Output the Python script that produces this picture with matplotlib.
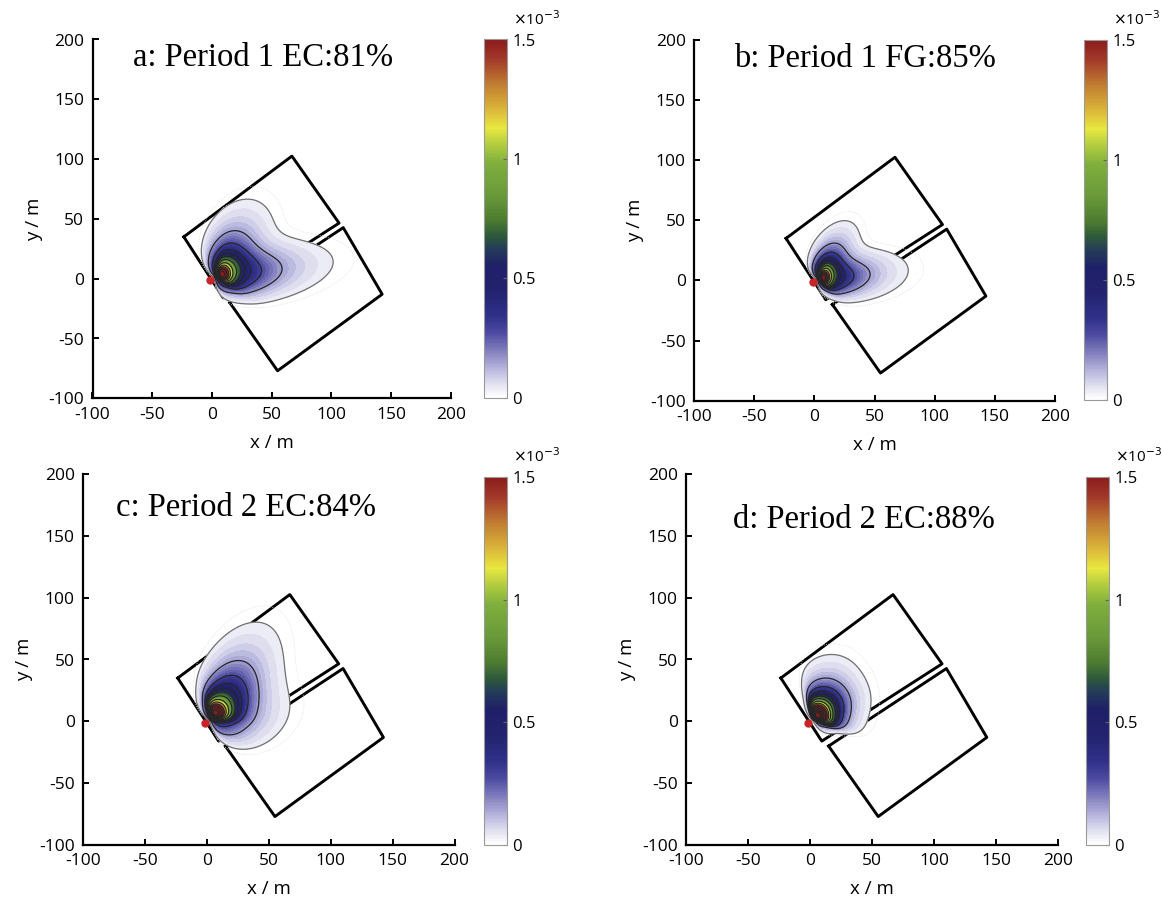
import numpy as np
import matplotlib
matplotlib.use("Agg")
import matplotlib.pyplot as plt
from matplotlib.colors import LinearSegmentedColormap, Normalize
from matplotlib.cm import ScalarMappable

# ---- data ---------------------------------------------------------------
TITLES = ["a: Period 1 EC:81%", "b: Period 1 FG:85%",
          "c: Period 2 EC:84%", "d: Period 2 EC:88%"]
TITLE_XY = [(-66, 185), (-67, 184), (-73, 173), (-62, 163)]

# field outlines (m)
UPPER_X = [-23.5, 67, 106.5, 9.5]
UPPER_Y = [35, 102.5, 46.5, -16]
LOWER_X = [15, 110, 142.6, 55]
LOWER_Y = [-20, 42.7, -13, -77]

TOWER = (-1.5, -1.2)          # red dot
ORIGIN = (1.5, 0.5)           # footprint origin

# broad footprint lobes, two per panel: direction (deg), distance of lobe
# maximum (m), reach of outermost contour (m), amplitude (x1e-3),
# crosswind spread and its growth with distance
BODY_DIR = [[58, 8.5], [58, 6.7], [58, 15], [60, 25]]
BODY_PEAK = [[12, 12], [10, 10], [12, 10], [9, 9]]
BODY_REACH = [[74, 101], [56, 77], [90.5, 66], [55, 45]]
BODY_AMP = [[0.45, 0.48], [0.48, 0.5], [0.52, 0.36], [0.5, 0.4]]
BODY_SPREAD = [[2.9, 5.0], [2.8, 3.6], [2.95, 4.8], [1.42, 3.6]]
BODY_GROW = [[0.43, 0.25], [0.35, 0.31], [0.415, 0.35], [0.6, 0.3]]

# sharp core near the tower: direction (deg), distance (m), amplitude,
# sharpness, crosswind width
CORE_DIR = [23, 13, 50, 42]
CORE_DIST = [7.5, 6.0, 8.2, 6.0]
CORE_AMP = [1.4, 1.5, 1.65, 2.4]
CORE_SHARP = [6, 6.5, 6, 4.5]
CORE_WIDTH = [0.52, 0.52, 0.5, 0.72]

OUTER = 0.03                                       # outermost contour (x1e-3)
LINE_LEVELS = [0.03, 0.15, 0.28, 0.4, 0.5, 0.6, 0.75, 0.95, 1.15, 1.35,
               1.6, 1.9, 2.2, 2.5, 2.8]
FAINT_LEVEL = 0.015

CB_VALS = [0.0, 0.05, 0.12, 0.2, 0.27, 0.34, 0.45, 0.55, 0.62, 0.68, 0.74,
           0.85, 0.98, 1.07, 1.13, 1.22, 1.32, 1.42, 1.5]
CB_COLS = ["#ffffff", "#e4e4f2", "#b6b4dc", "#7e7abc", "#4c4aa0", "#30308a",
           "#22226e", "#1f2068", "#243a5a", "#2e5a3a", "#4c7a30",
           "#6a9a3a", "#7eae3c", "#b8d040", "#e8e840", "#d8b038",
           "#c07a30", "#a2382a", "#8c1c1c"]

# axes boxes in pixels (left, top, right, bottom) of 1162 x 905
AX_PX = [(92.5, 39.5, 450.7, 398.3), (694, 40, 1055, 400.7),
         (83, 474, 454.5, 845), (686, 474, 1058, 845)]
CB_PX = [(484, 39.5, 507, 397.5), (1084, 40, 1107, 400),
         (484, 477, 507, 845), (1086, 477, 1109, 845)]

W, H = 1162, 905


def rotate(X, Y, d):
    ph = np.deg2rad(d)
    dx, dy = X - ORIGIN[0], Y - ORIGIN[1]
    return dx * np.cos(ph) + dy * np.sin(ph), -dx * np.sin(ph) + dy * np.cos(ph)


def body(X, Y, d, xm, reach, amp, c, q):
    s, n = rotate(X, Y, d)
    a = np.log(OUTER / amp) / (np.log(reach / xm) - reach / xm + 1)
    ss = np.where(s > 0.05, s, 0.05)
    g = amp * np.exp(a * (np.log(ss / xm) - ss / xm + 1))
    g *= 1 - np.exp(-ss / 1.5)                      # taper at the tower
    out = g * np.exp(-n ** 2 / (2 * (c * ss ** q) ** 2))
    return np.where(s > 0.05, out, 0.0)


def core(X, Y, d, xm, amp, p, c):
    s, n = rotate(X, Y, d)
    ss = np.where(s > 0.05, s, 0.05)
    g = amp * np.exp(-p * np.log(ss / xm) + p * (1 - xm / ss))
    out = g * np.exp(-n ** 2 / (2 * (c * ss) ** 2))
    return np.where(s > 0.05, out, 0.0)


cmap = LinearSegmentedColormap.from_list(
    "fp", list(zip(np.array(CB_VALS) / 1.5, CB_COLS)))
cmap.set_over(CB_COLS[-1])

plt.rcParams["font.family"] = ["Open Sans", "DejaVu Sans"]
plt.rcParams["axes.unicode_minus"] = False
fig = plt.figure(figsize=(W / 100, H / 100), dpi=100)

xg = np.linspace(-100, 200, 901)
X, Y = np.meshgrid(xg, xg)
fill_levels = np.concatenate([[OUTER], np.arange(0.05, 1.5, 0.025), [1.5]])

for i in range(4):
    norm = Normalize(0, 1.5)
    l, t, r, b = AX_PX[i]
    ax = fig.add_axes([l / W, 1 - b / H, (r - l) / W, (b - t) / H])
    F = core(X, Y, CORE_DIR[i], CORE_DIST[i], CORE_AMP[i], CORE_SHARP[i], CORE_WIDTH[i])
    for k in range(2):
        F += body(X, Y, BODY_DIR[i][k], BODY_PEAK[i][k], BODY_REACH[i][k],
                  BODY_AMP[i][k], BODY_SPREAD[i][k], BODY_GROW[i][k])

    ax.plot(UPPER_X + UPPER_X[:1], UPPER_Y + UPPER_Y[:1], color="black", lw=2.1, zorder=2)
    ax.plot(LOWER_X + LOWER_X[:1], LOWER_Y + LOWER_Y[:1], color="black", lw=2.1, zorder=2)
    ax.contour(X, Y, F, levels=[FAINT_LEVEL], colors="#dcdcdc", linewidths=0.6,
               linestyles=":", zorder=2.5)
    ax.contourf(X, Y, F, levels=fill_levels, cmap=cmap, norm=norm, extend="max", zorder=3)
    lv = [v for v in LINE_LEVELS if v < F.max()]
    lcols = ["#707070"] + ["#262626"] * (len(lv) - 1)
    ax.contour(X, Y, F, levels=lv, colors=lcols, linewidths=0.9, zorder=4)
    ax.plot(*TOWER, "o", color="#c8242a", ms=6, mec="none", zorder=5)

    ax.set_xlim(-100, 200); ax.set_ylim(-100, 200)
    ax.set_xticks(range(-100, 201, 50)); ax.set_yticks(range(-100, 201, 50))
    for sp in ("top", "right"):
        ax.spines[sp].set_visible(False)
    for sp in ("left", "bottom"):
        ax.spines[sp].set_linewidth(1.6)
    ax.tick_params(direction="in", length=4, width=1.4, labelsize=12.5, pad=6)
    ax.set_xlabel("x / m", fontsize=13.5, labelpad=8)
    ax.set_ylabel("y / m", fontsize=13.5, labelpad=4)
    ax.text(*TITLE_XY[i], TITLES[i], family=["Liberation Serif", "DejaVu Serif"],
            fontsize=23.5, ha="left", va="center")

    cl, ct, cr, cb = CB_PX[i]
    cax = fig.add_axes([cl / W, 1 - cb / H, (cr - cl) / W, (cb - ct) / H])
    cbar = fig.colorbar(ScalarMappable(norm=norm, cmap=cmap), cax=cax)
    cbar.set_ticks([0, 0.5, 1, 1.5])
    cbar.set_ticklabels(["0", "0.5", "1", "1.5"])
    cbar.outline.set_edgecolor("#9a9a9a"); cbar.outline.set_linewidth(0.8)
    cax.tick_params(direction="in", length=3, width=0.8, color="#666666",
                    labelsize=12, pad=4)
    cax.text(1.25, 1.03, r"$\times$10$^{-3}$", transform=cax.transAxes,
             fontsize=11, ha="left", va="bottom")

fig.savefig("out.png", dpi=100)
